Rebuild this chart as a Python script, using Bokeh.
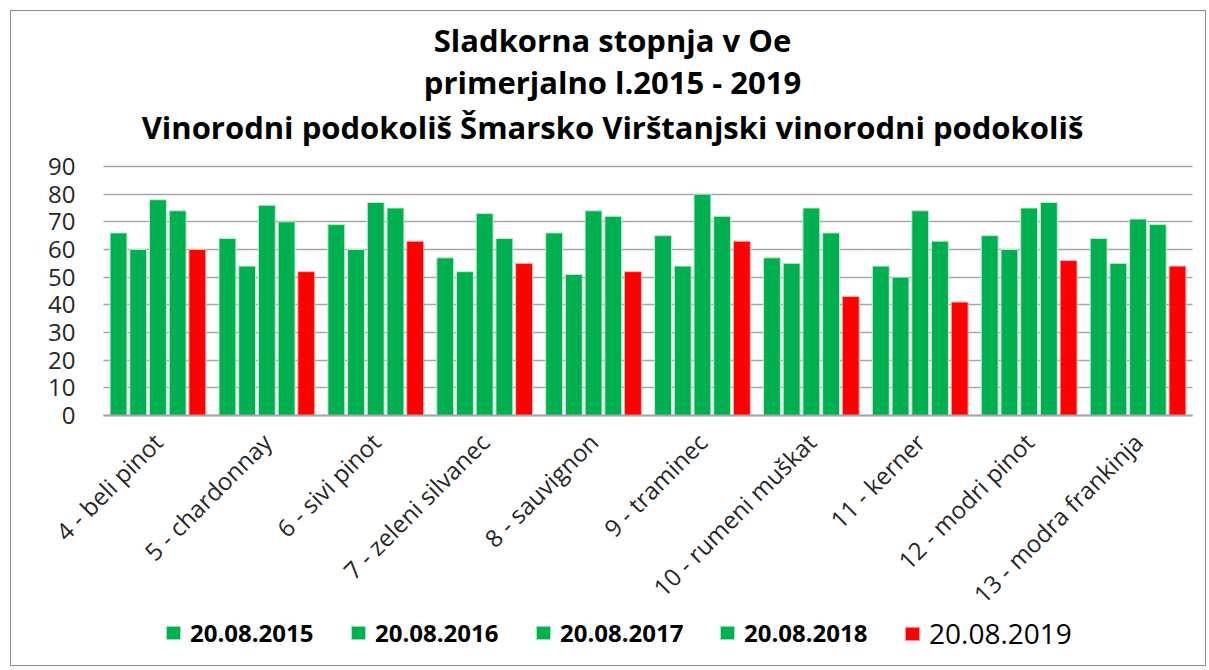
import math
from bokeh.plotting import figure
from bokeh.models import (ColumnDataSource, Legend, LegendItem, Range1d, Label,
                          FixedTicker)
from bokeh.transform import dodge
from bokeh.embed import file_html
from bokeh.resources import INLINE

categories = ["4 - beli pinot", "5 - chardonnay", "6 - sivi pinot", "7 - zeleni silvanec",
              "8 - sauvignon", "9 - traminec", "10 - rumeni muškat", "11 - kerner",
              "12 - modri pinot", "13 - modra frankinja"]
series_names = ["20.08.2015", "20.08.2016", "20.08.2017", "20.08.2018", "20.08.2019"]
v2015 = [66, 64, 69, 57, 66, 65, 57, 54, 65, 64]
v2016 = [60, 54, 60, 52, 51, 54, 55, 50, 60, 55]
v2017 = [78, 76, 77, 73, 74, 80, 75, 74, 75, 71]
v2018 = [74, 70, 75, 64, 72, 72, 66, 63, 77, 69]
v2019 = [60, 52, 63, 55, 52, 63, 43, 41, 56, 54]
series_values = [v2015, v2016, v2017, v2018, v2019]
series_colors = ["#00B050", "#00B050", "#00B050", "#00B050", "#FF0000"]
y_ticks = [0, 10, 20, 30, 40, 50, 60, 70, 80, 90]
title_lines = ["Sladkorna stopnja v Oe", "primerjalno l.2015 - 2019",
               "Vinorodni podokoliš Šmarsko Virštanjski vinorodni podokoliš"]

idx = list(range(len(categories)))
data = {"idx": idx}
for name, vals in zip(series_names, series_values):
    data[name] = vals
source = ColumnDataSource(data)

# canvas geometry (pixels)
W, H = 1196, 656
LEFT, RIGHT = 92, 15          # plot-area margins inside the canvas
TOP, BOTTOM = 155, 252        # from value 90 to top edge / from value 0 to bottom edge
group_px = (W - LEFT - RIGHT) / len(categories)
y_max_val = y_ticks[-1]
unit_px = (H - TOP - BOTTOM) / y_max_val
x_start = -0.5 - LEFT / group_px
x_end = len(categories) - 0.5 + RIGHT / group_px
y_start = -BOTTOM / unit_px
y_end = y_max_val + TOP / unit_px

p = figure(x_range=Range1d(x_start, x_end), y_range=Range1d(y_start, y_end),
           width=W, height=H, output_backend="svg", toolbar_location=None,
           min_border=0)
p.styles = {"border": "1px solid #8c8c8c", "margin": "10px 0 0 10px"}
p.outline_line_color = None
p.background_fill_color = "white"
p.border_fill_color = "white"

step = 0.181
bw = 0.155
renderers = []
for i, (name, col) in enumerate(zip(series_names, series_colors)):
    r = p.vbar(x=dodge("idx", (i - 2) * step), top=name, bottom=0,
               width=bw, source=source, fill_color=col,
               line_color="#bfeccf" if col != "#FF0000" else "#ffb3b3",
               line_width=1)
    renderers.append(r)

# y axis
p.yaxis.fixed_location = -0.5
p.yaxis.ticker = FixedTicker(ticks=y_ticks)
p.yaxis.axis_line_color = None
p.yaxis.major_tick_line_color = None
p.yaxis.major_tick_out = 0
p.yaxis.minor_tick_line_color = None
p.yaxis.major_label_text_font = "Open Sans"
p.yaxis.major_label_text_font_size = "24px"
p.yaxis.major_label_text_color = "#262626"
p.yaxis.major_label_standoff = 28

# x axis with category names
p.xaxis.fixed_location = 0
p.xaxis.bounds = (-0.5, len(categories) - 0.5)
p.xaxis.ticker = FixedTicker(ticks=idx)
p.xaxis.major_label_overrides = {i: c for i, c in zip(idx, categories)}
p.xaxis.axis_line_color = "#a6a6a6"
p.xaxis.axis_line_width = 2
p.xaxis.major_tick_line_color = None
p.xaxis.major_tick_out = 0
p.xaxis.minor_tick_line_color = None
p.xaxis.major_label_orientation = math.pi / 4
p.xaxis.major_label_text_font = "Open Sans"
p.xaxis.major_label_text_font_size = "24px"
p.xaxis.major_label_text_color = "#262626"
p.xaxis.major_label_standoff = 22

p.xgrid.grid_line_color = None
p.ygrid.grid_line_color = "#a6a6a6"
p.ygrid.grid_line_width = 1.5
p.ygrid.cross_bounds = (-0.5, len(categories) - 0.5)

# titles (screen units from the plot area's bottom-left)
title_baselines = [628, 586, 541]
for t, yy in zip(title_lines, title_baselines):
    p.add_layout(Label(x=601, y=yy, x_units="screen", y_units="screen", text=t,
                       text_align="center", text_baseline="alphabetic",
                       text_font="Open Sans", text_font_style="bold",
                       text_font_size="31px", text_color="#000000"))

# legends, one per item
leg_x = [153, 338, 523, 707, 892]
for i, (name, r) in enumerate(zip(series_names, renderers)):
    last = i == len(series_names) - 1
    lg = Legend(items=[LegendItem(label=name, renderers=[r])],
                location=(leg_x[i], 18 if not last else 15), orientation="horizontal",
                padding=0, margin=0, spacing=0,
                glyph_width=18, glyph_height=17, label_standoff=8,
                label_text_font="Open Sans",
                label_text_font_style="normal" if last else "bold",
                label_text_font_size="28px" if last else "24px",
                label_text_color="#000000",
                background_fill_alpha=0, border_line_color=None)
    p.add_layout(lg, "center")

open("out.html", "w").write(file_html(p, INLINE))
